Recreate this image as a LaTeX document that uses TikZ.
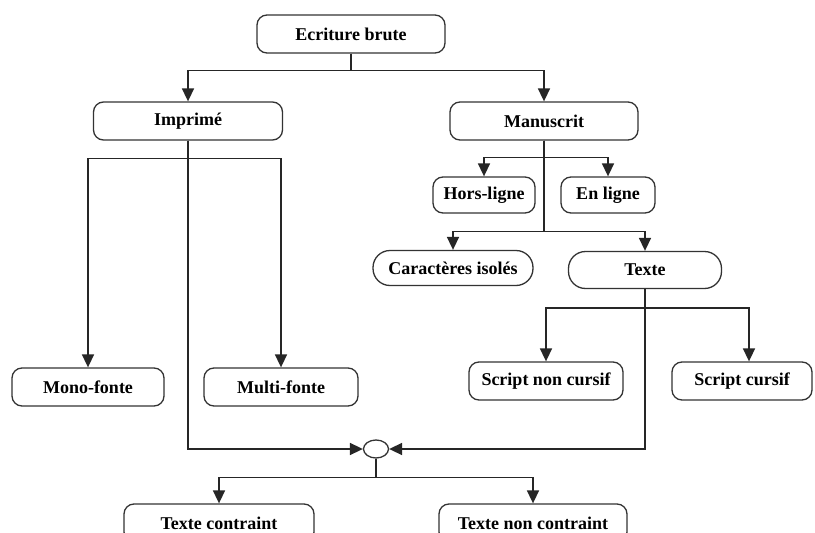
\documentclass[tikz,border=0pt]{standalone}
\usepackage{fontspec}
\setmainfont{Liberation Serif}
\usetikzlibrary{arrows.meta,shapes.geometric}
\begin{document}
\begin{tikzpicture}[x=1pt,y=-1pt,
  box/.style={draw=black!80, line width=1.3pt, rounded corners=10pt,
    minimum height=38pt, inner sep=0pt, font=\fontsize{18}{21}\selectfont\bfseries},
  pill/.style={box, rounded corners=17pt},
  link/.style={line width=1.6pt, draw=black!85},
  arr/.style={link, -{Triangle[length=13pt,width=12pt]}}]
\useasboundingbox (0,0) rectangle (815,533);
\clip (0,0) rectangle (815,533);
\fill[white] (0,0) rectangle (815,533);

% nodes
\node[box, minimum width=188pt] (top)   at (351,34)  {Ecriture brute};
\node[box, minimum width=189pt] (imp)   at (188,121) {Imprimé};
\node[box, minimum width=188pt] (man)   at (544,121) {Manuscrit};
\node[box, minimum width=102pt, minimum height=36pt] (hors) at (484,195) {Hors-ligne};
\node[box, minimum width=94pt,  minimum height=36pt] (enl)  at (608,195) {En ligne};
\node[pill, minimum width=160pt, minimum height=35pt] (car) at (453,268) {Caractères isolés};
\node[pill, minimum width=153pt, minimum height=37pt] (txt) at (645,270) {Texte};
\node[box, minimum width=152pt] (mono)  at (88,387)  {Mono-fonte};
\node[box, minimum width=154pt] (multi) at (281,387) {Multi-fonte};
\node[box, minimum width=154pt] (snc)   at (546,381) {Script non cursif};
\node[box, minimum width=140pt] (sc)    at (742,381) {Script cursif};
\node[draw=black!80, line width=1.3pt, ellipse, minimum width=25pt, minimum height=18pt, inner sep=0pt] (circ) at (376,449) {};
\node[box, minimum width=190pt] (tc)    at (219,523) {Texte contraint};
\node[box, minimum width=188pt] (tnc)   at (533,523) {Texte non contraint};

% connectors
\draw[arr] (top.south) -- ++(0,17) -| (imp.north);
\draw[arr] (top.south) -- ++(0,17) -| (man.north);

\draw[arr] (imp.south) -- ++(0,18) -| (mono.north);
\draw[arr] (imp.south) -- ++(0,18) -| (multi.north);
\draw[arr] (imp.south) |- (circ.west);

\draw[arr] (man.south) -- ++(0,17) -| (hors.north);
\draw[arr] (man.south) -- ++(0,17) -| (enl.north);
\draw[arr] (man.south) -- ++(0,91) -| (car.north);
\draw[arr] (man.south) -- ++(0,91) -| (txt.north);

\draw[arr] (txt.south) -- ++(0,19) -| (snc.north);
\draw[arr] (txt.south) -- ++(0,19) -| ([xshift=7pt]sc.north);
\draw[arr] (txt.south) |- (circ.east);

\draw[arr] (circ.south) -- ++(0,19) -| (tc.north);
\draw[arr] (circ.south) -- ++(0,19) -| (tnc.north);
\end{tikzpicture}
\end{document}
